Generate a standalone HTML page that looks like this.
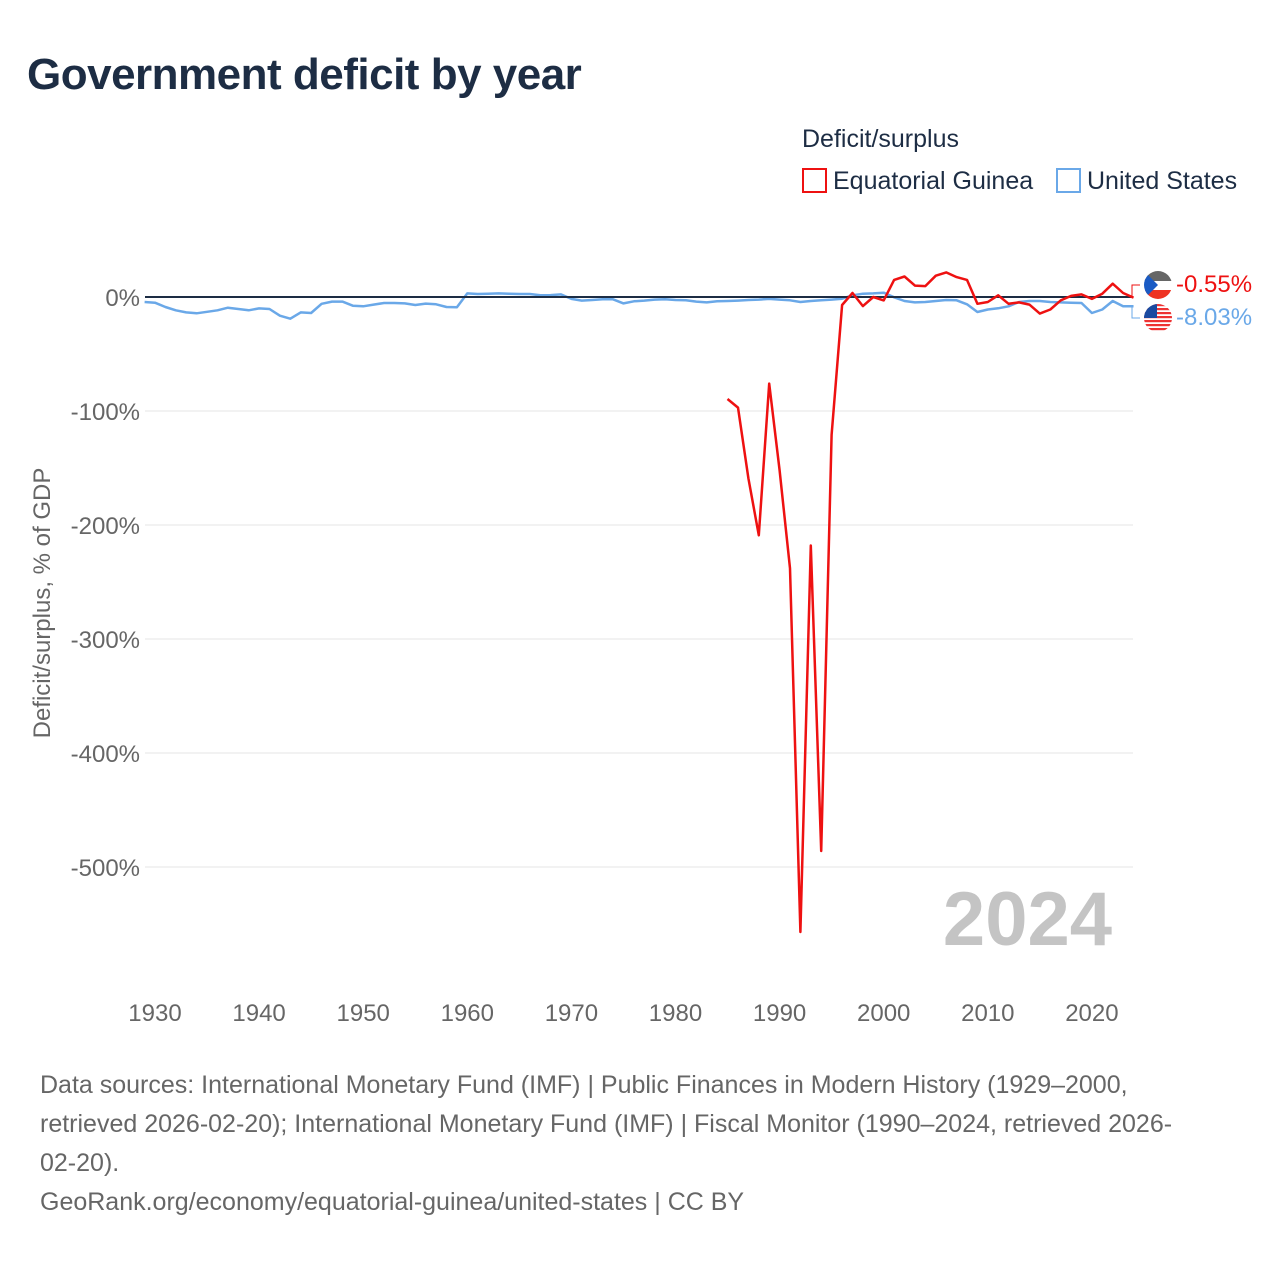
<!DOCTYPE html>
<html><head><meta charset="utf-8">
<style>
body{margin:0;background:#fff;font-family:"Liberation Sans",sans-serif;}
#wrap{position:relative;width:1280px;height:1280px;overflow:hidden;}
h1{position:absolute;left:27px;top:50px;margin:0;font-size:44px;font-weight:bold;color:#1d2d44;letter-spacing:-0.5px;}
.src{position:absolute;left:40px;top:1066px;width:1220px;font-size:25px;line-height:39px;color:#666;white-space:nowrap;}
</style></head>
<body><div id="wrap">
<h1>Government deficit by year</h1>
<svg id="chart" width="1280" height="1280" style="position:absolute;left:0;top:0"></svg>
<div class="src">Data sources: International Monetary Fund (IMF) | Public Finances in Modern History (1929–2000,<br>retrieved 2026-02-20); International Monetary Fund (IMF) | Fiscal Monitor (1990–2024, retrieved 2026-<br>02-20).<br>GeoRank.org/economy/equatorial-guinea/united-states | CC BY</div>
</div>
<script>
const usStart = 1929;
const usValues = [-4.4,-5,-8.8,-11.7,-13.5,-14.3,-13,-11.7,-9.4,-10.5,-11.7,-10,-10.5,-16.4,-19,-13.5,-14,-6,-4,-4,-7.6,-8.2,-6.7,-5.3,-5.3,-5.6,-7,-5.8,-6.4,-8.8,-9,3.2,2.6,2.9,3.2,2.9,2.6,2.6,1.5,1.7,2.3,-1.7,-3.2,-2.6,-2,-2,-5.6,-3.8,-3.2,-2.3,-2,-2.6,-2.9,-4,-4.7,-3.8,-3.5,-3.2,-2.6,-2.3,-1.7,-2.3,-2.9,-4.4,-3.5,-2.9,-2.3,-1.5,1.5,2.9,3.2,3.8,-0.3,-3.5,-4.7,-4.4,-3.5,-2.6,-2.9,-6.4,-13.2,-11,-9.9,-8.2,-4.4,-3.5,-3.5,-4.4,-4.7,-5,-5.3,-14,-11,-3.5,-8.2,-8.03];
const gqStart = 1985;
const gqValues = [-89.5,-97,-159,-209,-76,-152,-238,-557,-218,-486,-121,-7,3.5,-8,0,-3,15,18,10,9.6,18.7,21.6,17.5,15,-6,-4.4,1.5,-6,-4.7,-6.7,-14.6,-11,-3,1,2.3,-1.7,2.9,11.7,3.5,-0.55];
const yTicks = [0,-100,-200,-300,-400,-500];
const xTicks = [1930,1940,1950,1960,1970,1980,1990,2000,2010,2020];

const svg = document.getElementById('chart');
const NS = 'http://www.w3.org/2000/svg';
const X = y => 155 + (y - 1930) * 10.41;
const Y = v => 297 - v * 1.14;
function mk(tag, attrs, parent){const e=document.createElementNS(NS,tag);for(const k in attrs)e.setAttribute(k,attrs[k]);(parent||svg).appendChild(e);return e;}

yTicks.forEach(t=>{
  if(t!==0){const g=mk('line',{x1:145,x2:1133,y1:Y(t),y2:Y(t),stroke:'#e6e6e6','stroke-width':1});
  
  }
  const l=mk('text',{x:140,y:Y(t)+9,'text-anchor':'end','font-size':24,fill:'#666','font-family':'Liberation Sans'});
  l.textContent=t+'%';
  
  
});
xTicks.forEach(t=>{
  const l=mk('text',{x:X(t),y:1021,'text-anchor':'middle','font-size':24,fill:'#666','font-family':'Liberation Sans'});
  l.textContent=t;
  
  
});
const yt=mk('text',{x:0,y:0,transform:'translate(50,603) rotate(-90)','text-anchor':'middle','font-size':24,fill:'#666','font-family':'Liberation Sans'});
yt.textContent='Deficit/surplus, % of GDP';



const yr=mk('text',{x:1112,y:945,'text-anchor':'end','font-size':76,'font-weight':'bold',fill:'#c4c4c4','font-family':'Liberation Sans'});
yr.textContent='2024';



function series(start, vals, color, name){
  const d=vals.map((v,i)=>(i?'L':'M')+X(start+i).toFixed(1)+' '+Y(v).toFixed(1)).join(' ');
  const p=mk('path',{d:d,fill:'none',stroke:color,'stroke-width':2.5,'stroke-linejoin':'round'});
  
  
}
series(usStart,usValues,'#6aa8e8','us-line');
const z=mk('line',{x1:145,x2:1133,y1:Y(0),y2:Y(0),stroke:'#1d2d44','stroke-width':2});


series(gqStart,gqValues,'#ee1111','equatorial-guinea-line');

const gqEnd=gqValues[gqValues.length-1], usEnd=usValues[usValues.length-1];
const c1=mk('path',{d:`M${X(2024)} ${Y(gqEnd)} H1132 V285 H1140`,fill:'none',stroke:'#ee1111','stroke-width':1});


const c2=mk('path',{d:`M${X(2024)} ${Y(usEnd)} H1132 V318 H1140`,fill:'none',stroke:'#6aa8e8','stroke-width':1});


const f1=mk('g',{});


mk('clipPath',{id:'cp1'},f1);mk('circle',{cx:1158,cy:285,r:14},document.getElementById('cp1'));
const g1=mk('g',{'clip-path':'url(#cp1)'},f1);
mk('rect',{x:1144,y:271,width:28,height:10,fill:'#666'},g1);
mk('rect',{x:1144,y:281,width:28,height:9,fill:'#fff'},g1);
mk('rect',{x:1144,y:290,width:28,height:10,fill:'#e32'},g1);
mk('path',{d:'M1144 271 L1158 285 L1144 299 Z',fill:'#1a5bc4'},g1);
const f2=mk('g',{});


mk('clipPath',{id:'cp2'},f2);mk('circle',{cx:1158,cy:318,r:14},document.getElementById('cp2'));
const g2=mk('g',{'clip-path':'url(#cp2)'},f2);
for(let i=0;i<7;i++)mk('rect',{x:1144,y:304+i*4,width:28,height:2.2,fill:'#e33'},g2);
mk('rect',{x:1144,y:304,width:13,height:14,fill:'#1a4aa0'},g2);
const l1=mk('text',{x:1176,y:292,'font-size':24,fill:'#ee1111','font-family':'Liberation Sans'});
l1.textContent=gqEnd.toFixed(2)+'%';


const l2=mk('text',{x:1176,y:325,'font-size':24,fill:'#6aa8e8','font-family':'Liberation Sans'});
l2.textContent=usEnd.toFixed(2)+'%';



const lt=mk('text',{x:802,y:147,'font-size':25,fill:'#1d2d44','font-family':'Liberation Sans'});
lt.textContent='Deficit/surplus';


[[803,'#ee1111','Equatorial Guinea','legend-entry-gq'],[1057,'#6aa8e8','United States','legend-entry-us']].forEach(e=>{
  const g=mk('g',{});
  
  
  mk('rect',{x:e[0],y:169,width:23,height:23,fill:'none',stroke:e[1],'stroke-width':2},g);
  const t=mk('text',{x:e[0]+30,y:189,'font-size':25,fill:'#1d2d44','font-family':'Liberation Sans'},g);
  t.textContent=e[2];
});
</script>
</body></html>
